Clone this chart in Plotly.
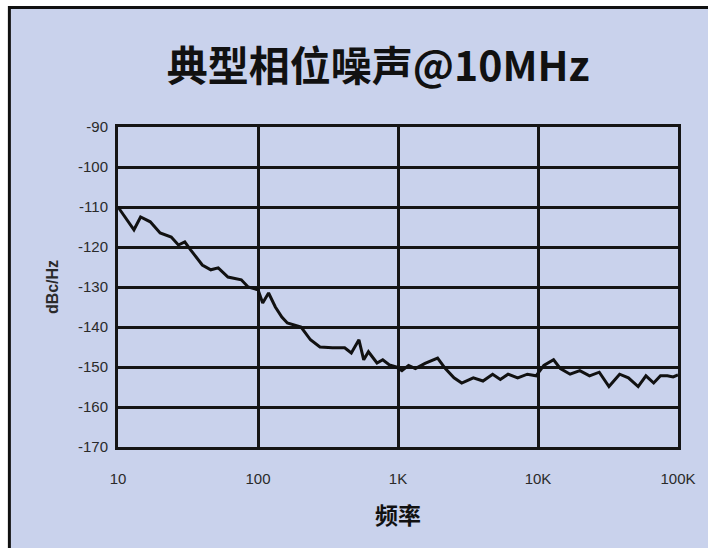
import plotly.graph_objects as go

# ---- data ----
freq_hz = [10, 13, 14.5, 17, 20, 24, 27, 30, 33, 40, 46, 52, 61, 76, 85, 100,
           108, 119, 133, 148, 162, 203, 237, 277, 340, 416, 464, 526, 569, 615,
           708, 778, 868, 969,
           1066, 1190, 1331, 1560, 1918, 2178, 2512, 2851, 3451, 4046, 4742,
           5383, 6110, 7161, 8395, 9690,
           11010, 12920, 14450, 16950, 19890, 23340, 27390, 32130, 38290, 44240,
           51930, 59020, 67040, 74980, 83920, 92300, 100000]
noise_dbc = [-110, -115.7, -112.5, -113.7, -116.5, -117.5, -119.5, -118.7, -120.7,
             -124.5, -125.7, -125.2, -127.5, -128.2, -130, -130.7,
             -134, -131.5, -135, -137.5, -139, -140, -143.2, -145, -145.2, -145.2,
             -146.5, -143.2, -148.2, -146.2, -149, -148.2, -149.5, -150,
             -150.9, -149.6, -150.4, -149.1, -147.8, -150.4, -152.7, -154, -152.7,
             -153.5, -151.8, -153.1, -151.8, -152.7, -151.8, -152.2,
             -149.6, -148.2, -150.4, -151.8, -150.9, -152.2, -151.3, -154.9,
             -151.8, -152.7, -154.9, -152.2, -154, -152.2, -152.2, -152.5, -152]

x_tickvals = [10, 100, 1000, 10000, 100000]
x_ticktext = ["10", "100", "1K", "10K", "100K"]
y_tickvals = [-90, -100, -110, -120, -130, -140, -150, -160, -170]
y_ticktext = ["-90", "-100", "-110", "-120", "-130", "-140", "-150", "-160", "-170"]

title_text = "典型相位噪声@10MHz"
x_title = "频率"
y_title = "dBc/Hz"

BG = "rgb(201,210,236)"

fig = go.Figure()
fig.add_trace(go.Scatter(
    x=freq_hz, y=noise_dbc, mode="lines",
    line=dict(color="#111111", width=3),
    showlegend=False, hoverinfo="skip",
))

# page frame (white margin strip + black border lines)
def px_x(p):
    return (p - 118) / 562.0

def px_y(p):
    return (447 - p) / 320.0

shapes = [
    dict(type="rect", xref="paper", yref="paper", layer="below",
         x0=px_x(9), x1=px_x(730), y0=px_y(570), y1=px_y(8),
         fillcolor=BG, line=dict(width=0)),
    dict(type="line", xref="paper", yref="paper",
         x0=px_x(8), x1=px_x(730), y0=px_y(7.5), y1=px_y(7.5),
         line=dict(color="#111111", width=3)),
    dict(type="line", xref="paper", yref="paper",
         x0=px_x(9), x1=px_x(9), y0=px_y(6), y1=px_y(570),
         line=dict(color="#111111", width=3)),
]

fig.update_layout(
    width=708, height=548,
    margin=dict(l=118, r=28, t=127, b=101),
    paper_bgcolor="white",
    plot_bgcolor=BG,
    shapes=shapes,
    title=dict(
        text=title_text, x=0.534, xanchor="center", y=0.878, yanchor="middle",
        font=dict(family="Noto Sans CJK SC", size=41, color="#111111", weight="bold"),
    ),
    xaxis=dict(
        type="log", range=[1, 5],
        tickvals=x_tickvals, ticktext=x_ticktext,
        showgrid=True, gridcolor="#151515", gridwidth=3,
        showline=True, linecolor="#151515", linewidth=3, mirror=True,
        ticks="", ticklabelstandoff=16,
        tickfont=dict(family="Liberation Sans", size=15, color="#2a2a2a"),
        title=dict(text=x_title, standoff=22,
                   font=dict(family="Noto Sans CJK SC", size=23, color="#111111", weight="bold")),
        zeroline=False,
    ),
    yaxis=dict(
        range=[-170, -90], tickvals=y_tickvals, ticktext=y_ticktext,
        showgrid=True, gridcolor="#151515", gridwidth=3,
        showline=True, linecolor="#151515", linewidth=3, mirror=True,
        ticks="", ticklabelstandoff=4,
        tickfont=dict(family="Liberation Sans", size=15, color="#2a2a2a"),
        title=dict(text=y_title, standoff=16,
                   font=dict(family="Liberation Sans", size=16, color="#2a2a2a", weight="bold")),
        zeroline=False,
    ),
)

fig.write_html("out.html", config={"displayModeBar": False},
               post_script="document.body.style.margin='0px';")
